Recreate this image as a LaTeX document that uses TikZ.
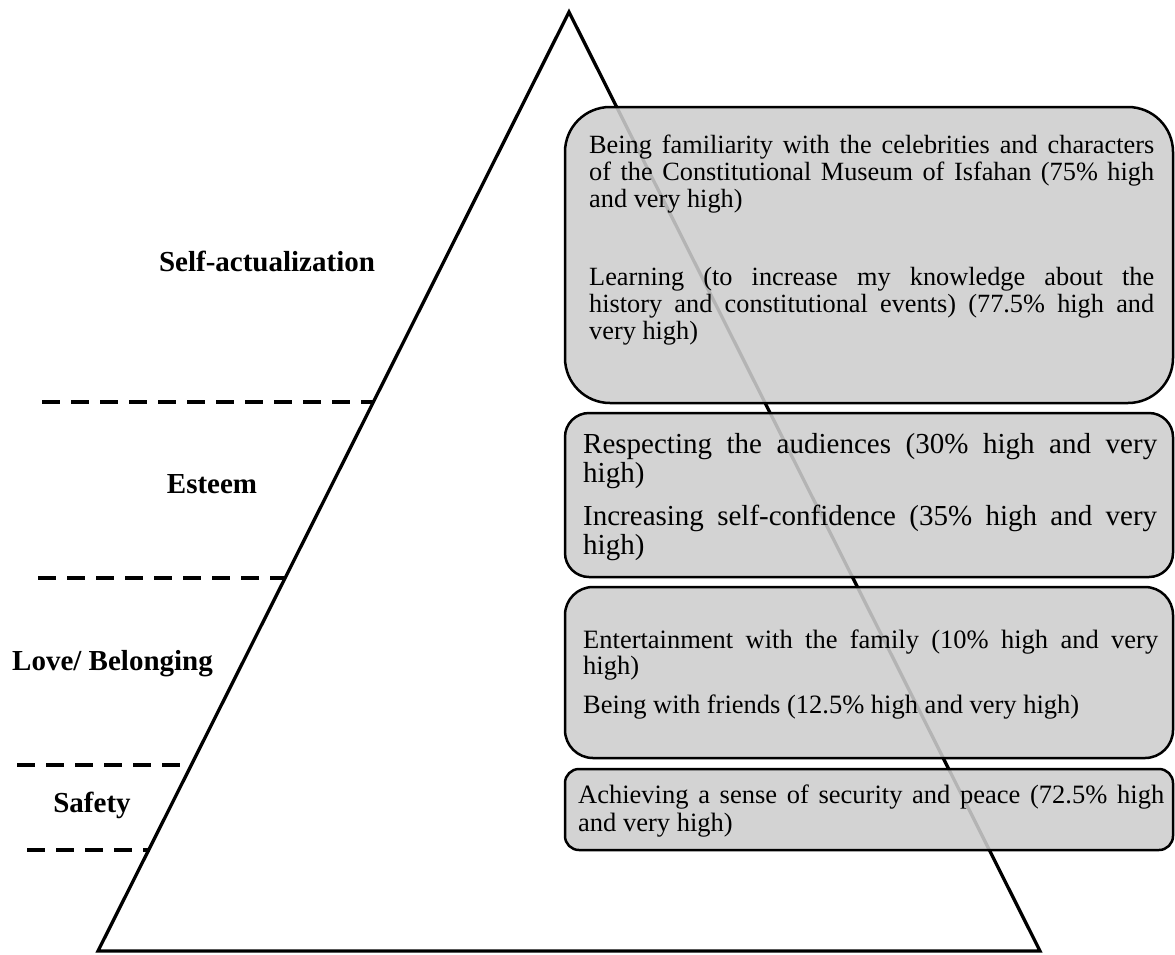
\documentclass[tikz,border=0pt]{standalone}
\usepackage{fontspec}
\setmainfont{Liberation Serif}
\tolerance=10000
\hyphenpenalty=10000
\exhyphenpenalty=10000
\hbadness=10000
\definecolor{boxgray}{RGB}{205,205,205}
\tikzset{
  tri/.style={line width=3.3pt, line join=miter},
  sepline/.style={line width=4pt, dash pattern=on 17.5pt off 11.5pt},
  box/.style={draw, line width=2.5pt, fill=boxgray, fill opacity=0.88,
    inner sep=0pt, outer sep=0pt, minimum width=608pt},
  lvl/.style={font=\bfseries\fontsize{29}{32}\selectfont, anchor=base, inner sep=0pt},
  txt/.style={anchor=base west, inner sep=0pt, align=justify},
}
\begin{document}
\begin{tikzpicture}[x=1pt,y=-1pt]
\useasboundingbox (0,0) rectangle (1175,954);
% pyramid
\coordinate (apex) at (569,12);
\coordinate (bl) at (98,951);
\coordinate (br) at (1040,951);
\draw[tri] (apex) -- (bl) -- (br) -- cycle;
% dashed separators
\coordinate (d1a) at (42,402);  \coordinate (d1b) at (373,402);
\coordinate (d2a) at (38,578);  \coordinate (d2b) at (286,578);
\coordinate (d3a) at (17,765);  \coordinate (d3b) at (180,765);
\coordinate (d4a) at (27,850);  \coordinate (d4b) at (150,850);
\draw[sepline] (d1a) -- (d1b);
\draw[sepline] (d2a) -- (d2b);
\draw[sepline] (d3a) -- (d3b);
\draw[sepline] (d4a) -- (d4b);
% level labels
\node[lvl] (l1) at (267,271) {Self-actualization};
\node[lvl] (l2) at (212,493) {Esteem};
\node[lvl] (l3) at (112.5,670) {Love/ Belonging};
\node[lvl] (l4) at (92,812) {Safety};
% boxes
\node[box, minimum height=296pt, rounded corners=45pt] (b1) at (869,255) {};
\node[box, minimum height=164pt, rounded corners=24pt] (b2) at (869,495) {};
\node[box, minimum height=171pt, rounded corners=28pt] (b3) at (869,672.5) {};
\node[box, minimum height=81pt, rounded corners=14pt] (b4) at (869,809.5) {};
% box texts
\node[txt, text width=565pt, font=\fontsize{26.3}{27}\selectfont] (t1a) at (589,153)
  {Being familiarity with the celebrities and characters\linebreak of the Constitutional Museum of Isfahan (75\% high\linebreak and very high)};
\node[txt, text width=565pt, font=\fontsize{26.3}{27}\selectfont] (t1b) at (589,285)
  {Learning (to increase my knowledge about the\linebreak history and constitutional events) (77.5\% high and\linebreak very high)};
\node[txt, text width=574pt, font=\fontsize{29}{29}\selectfont] (t2a) at (583,453)
  {Respecting the audiences (30\% high and very\linebreak high)};
\node[txt, text width=574pt, font=\fontsize{29}{29}\selectfont] (t2b) at (583,525)
  {Increasing self-confidence (35\% high and very\linebreak high)};
\node[txt, text width=575pt, font=\fontsize{26.5}{26}\selectfont] (t3a) at (583,648)
  {Entertainment with the family (10\% high and very\linebreak high)};
\node[txt, text width=575pt, font=\fontsize{26.5}{26}\selectfont] (t3b) at (583,713)
  {Being with friends (12.5\% high and very high)};
\node[txt, text width=586pt, font=\fontsize{26.5}{28}\selectfont] (t4) at (578,803)
  {Achieving a sense of security and peace (72.5\% high\linebreak and very high)};
\end{tikzpicture}
\end{document}
